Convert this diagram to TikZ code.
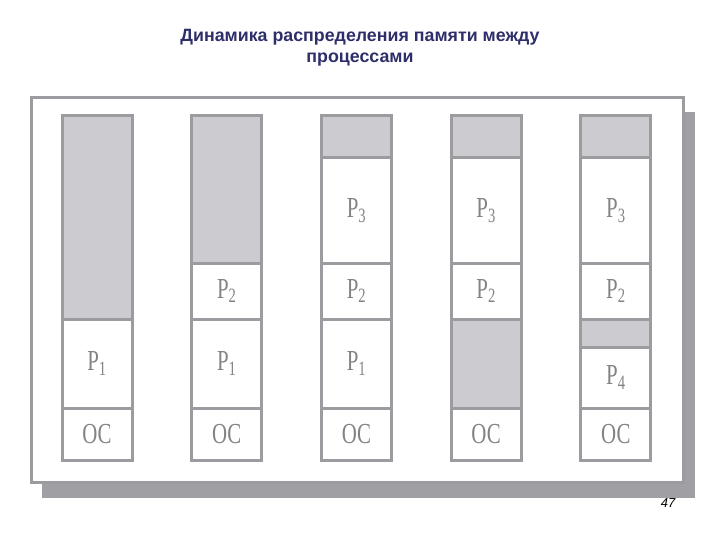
\documentclass[tikz,border=0pt]{standalone}
\usepackage{fontspec}
\setmainfont{Liberation Serif}
\newfontfamily\titlefont{Liberation Sans}
\definecolor{lineg}{HTML}{9C9CA0}
\definecolor{freeg}{HTML}{CBCBD0}
\definecolor{textg}{HTML}{838385}
\definecolor{shadowg}{HTML}{A0A0A4}
\definecolor{titleblue}{HTML}{2E2E6A}
\newcommand{\cnd}[1]{\scalebox{0.72}[1]{#1}}
\newcommand{\proc}[1]{\cnd{P\textsubscript{#1}}}
\begin{document}
\begin{tikzpicture}[x=1pt, y=-1pt, line width=3pt,
  seg/.style={rectangle, draw=lineg, fill=white, minimum width=70pt, inner sep=0pt,
    text=textg, font=\fontsize{29}{29}\selectfont},
  free/.style={seg, fill=freeg}]
\useasboundingbox (0,0) rectangle (720,540);
% frame with shadow
\fill[shadowg] (42,112) rectangle (695,498);
\draw[lineg, fill=white] (31,98) rectangle (683,482);
\node[font=\titlefont\bfseries\fontsize{17.8}{21}\selectfont, text=titleblue, align=center] (title) at (360,47.5) {Динамика распределения памяти между\\процессами};
\node[font=\titlefont\itshape\fontsize{13}{13}\selectfont] (page) at (668,503) {47};
% column 1
\begin{scope}
\node[free, minimum height=203pt] (c1free) at (97,217.5) {};
\node[seg, minimum height=89pt] (c1p1) at (97,363.5) {\proc{1}};
\node[seg, minimum height=52pt] (c1os) at (97,434) {\cnd{ОС}};
\end{scope}
% column 2
\begin{scope}
\node[free, minimum height=147pt] (c2free) at (226.7,189.5) {};
\node[seg, minimum height=56pt] (c2p2) at (226.7,291) {\proc{2}};
\node[seg, minimum height=89pt] (c2p1) at (226.7,363.5) {\proc{1}};
\node[seg, minimum height=52pt] (c2os) at (226.7,434) {\cnd{ОС}};
\end{scope}
% column 3
\begin{scope}
\node[free, minimum height=42pt] (c3free) at (356.4,137) {};
\node[seg, minimum height=105pt] (c3p3) at (356.4,210.5) {\proc{3}};
\node[seg, minimum height=56pt] (c3p2) at (356.4,291) {\proc{2}};
\node[seg, minimum height=89pt] (c3p1) at (356.4,363.5) {\proc{1}};
\node[seg, minimum height=52pt] (c3os) at (356.4,434) {\cnd{ОС}};
\end{scope}
% column 4
\begin{scope}
\node[free, minimum height=42pt] (c4free) at (486.1,137) {};
\node[seg, minimum height=105pt] (c4p3) at (486.1,210.5) {\proc{3}};
\node[seg, minimum height=56pt] (c4p2) at (486.1,291) {\proc{2}};
\node[free, minimum height=89pt] (c4hole) at (486.1,363.5) {};
\node[seg, minimum height=52pt] (c4os) at (486.1,434) {\cnd{ОС}};
\end{scope}
% column 5
\begin{scope}
\node[free, minimum height=42pt] (c5free) at (615.8,137) {};
\node[seg, minimum height=105pt] (c5p3) at (615.8,210.5) {\proc{3}};
\node[seg, minimum height=56pt] (c5p2) at (615.8,291) {\proc{2}};
\node[free, minimum height=28pt] (c5hole) at (615.8,333) {};
\node[seg, minimum height=61pt] (c5p4) at (615.8,377.5) {\proc{4}};
\node[seg, minimum height=52pt] (c5os) at (615.8,434) {\cnd{ОС}};
\end{scope}
\end{tikzpicture}
\end{document}
